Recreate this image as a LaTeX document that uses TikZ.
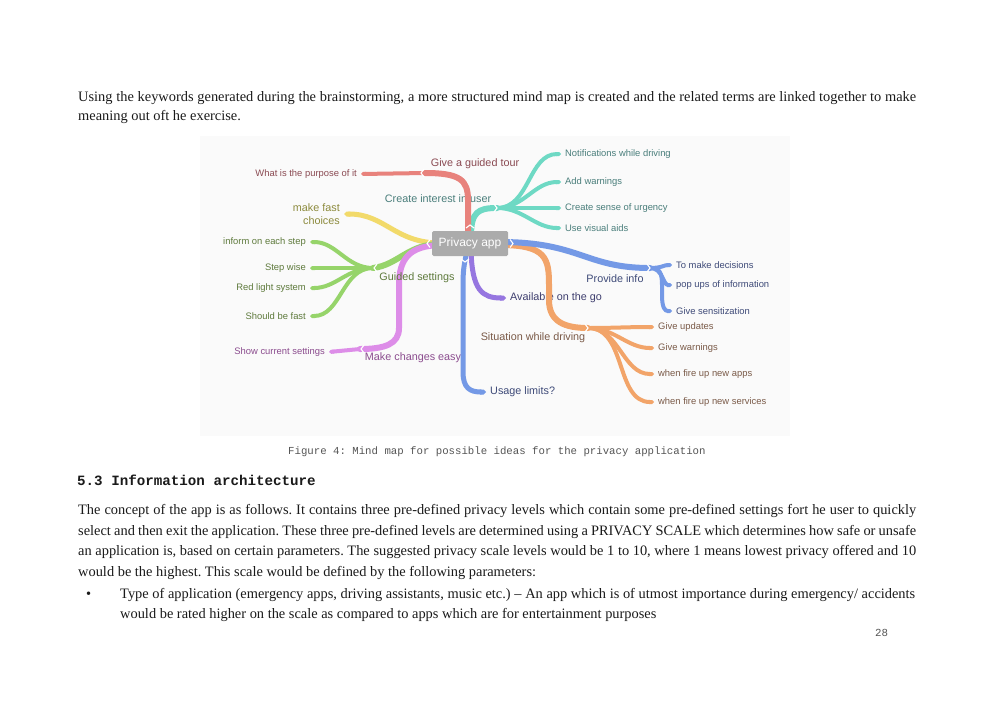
\documentclass[tikz,border=0pt]{standalone}
\usepackage{fontspec}
\setmainfont{Liberation Serif}
\newfontfamily\mapsans{Liberation Sans}
\newfontfamily\mymono{Liberation Mono}
\usetikzlibrary{arrows.meta}
\definecolor{redb}{HTML}{E8827C}
\definecolor{tealb}{HTML}{6ED9C4}
\definecolor{yellowb}{HTML}{F2DA6A}
\definecolor{greenb}{HTML}{96D46A}
\definecolor{pinkb}{HTML}{DD8DE8}
\definecolor{blueb}{HTML}{7499E6}
\definecolor{violetb}{HTML}{9676E0}
\definecolor{orangeb}{HTML}{F2A469}
\definecolor{redt}{HTML}{8A4A52}
\definecolor{tealt}{HTML}{4A7E7B}
\definecolor{yellowt}{HTML}{8C8A3C}
\definecolor{greent}{HTML}{5E7A3C}
\definecolor{pinkt}{HTML}{8B4C8E}
\definecolor{bluet}{HTML}{3E4A78}
\definecolor{violett}{HTML}{3E3E6E}
\definecolor{oranget}{HTML}{7A5A48}
\definecolor{boxgray}{HTML}{ABABAB}
\definecolor{bodyt}{HTML}{1A1A1A}
\definecolor{capt}{HTML}{555555}
\newcommand\jl[1]{\hbox to 838pt{#1}}
\newcommand\jlb[1]{\hbox to 795pt{#1}}
\frenchspacing
\begin{document}
\begin{tikzpicture}[x=1pt,y=-1pt,
  body/.style={anchor=base west, inner sep=0pt, text=bodyt, font=\fontsize{14.4}{16}\selectfont\frenchspacing},
  br/.style={line width=6pt, line cap=round},
  brend/.style={line width=5pt, line cap=round, -{Triangle Cap[]}},
  sub/.style={line width=4pt, line cap=round, -{Triangle Cap[]}},
  lbl/.style={inner sep=0pt, font=\mapsans\fontsize{10.8}{12.5}\selectfont},
  sml/.style={inner sep=0pt, font=\mapsans\fontsize{9.4}{10.8}\selectfont},
  notch/.style={white, line width=1.1pt}]
\useasboundingbox (0,0) rectangle (1000,707);
\fill[white] (0,0) rectangle (1000,707);
\fill[black!1.8] (200,136) rectangle (790,436);

% ---------- body text ----------
\node[body] (p1a) at (78,101) {\jl{Using the keywords generated during the brainstorming, a more structured mind map is created and the related terms are linked together to make}};
\node[body] (p1b) at (78,120) {meaning out oft he exercise.};
\node[body] (cap) at (288,454) {\mymono\fontsize{10.7}{12}\selectfont\color{capt}Figure 4: Mind map for possible ideas for the privacy application};
\node[body] (head) at (77,485) {\mymono\bfseries\fontsize{14.2}{16}\selectfont 5.3 Information architecture};
\node[body] (p2a) at (78,514) {\jl{The concept of the app is as follows. It contains three pre-defined privacy levels which contain some pre-defined settings fort he user to quickly}};
\node[body] (p2b) at (78,535) {\jl{select and then exit the application. These three pre-defined levels are determined using a PRIVACY SCALE which determines how safe or unsafe}};
\node[body] (p2c) at (78,555) {\jl{an application is, based on certain parameters. The suggested privacy scale levels would be 1 to 10, where 1 means lowest privacy offered and 10}};
\node[body] (p2d) at (78,576) {would be the highest. This scale would be defined by the following parameters:};
\node[body] (bul) at (86,598) {\textbullet};
\node[body] (p3a) at (120,598) {\jlb{Type of application (emergency apps, driving assistants, music etc.) -- An app which is of utmost importance during emergency/ accidents}};
\node[body] (p3b) at (120,618) {would be rated higher on the scale as compared to apps which are for entertainment purposes};
\node[body] (pg) at (875,636) {\mymono\fontsize{10.8}{12}\selectfont\color{capt}28};

% ---------- mind map text nodes ----------
\node[sml, text=redt, anchor=east] (tPurpose) at (357,174) {What is the purpose of it};
\node[lbl, text=redt] (lTour) at (475,164) {Give a guided tour};
\node[lbl, text=tealt] (lInterest) at (438,199) {Create interest in user};
\node[sml, text=tealt, anchor=west] (tNotif) at (565,154) {Notifications while driving};
\node[sml, text=tealt, anchor=west] (tWarn) at (565,182) {Add warnings};
\node[sml, text=tealt, anchor=west] (tUrg) at (565,208) {Create sense of urgency};
\node[sml, text=tealt, anchor=west] (tVis) at (565,228) {Use visual aids};
\node[lbl, text=yellowt, anchor=east, align=right] (tFast) at (340,214) {make fast\\choices};
\node[sml, text=greent, anchor=east] (tInform) at (306,242) {inform on each step};
\node[sml, text=greent, anchor=east] (tStep) at (306,268) {Step wise};
\node[sml, text=greent, anchor=east] (tRed) at (306,288) {Red light system};
\node[sml, text=greent, anchor=east] (tFastS) at (306,316) {Should be fast};
\node[lbl, text=pinkt] (lChanges) at (413,358) {Make changes easy};
\node[sml, text=pinkt, anchor=east] (tShow) at (325,352) {Show current settings};
\node[lbl, text=bluet] (lInfo) at (615,279) {Provide info};
\node[sml, text=bluet, anchor=west] (tDec) at (676,265) {To make decisions};
\node[sml, text=bluet, anchor=west] (tPop) at (676,285) {pop ups of information};
\node[sml, text=bluet, anchor=west] (tSens) at (676,311) {Give sensitization};
\node[lbl, text=violett, anchor=west] (tAvail) at (510,298) {Available on the go};
\node[lbl, text=oranget] (lSit) at (533,338) {Situation while driving};
\node[sml, text=oranget, anchor=west] (tUpd) at (658,327) {Give updates};
\node[sml, text=oranget, anchor=west] (tGW) at (658,348) {Give warnings};
\node[sml, text=oranget, anchor=west] (tApps) at (658,374) {when fire up new apps};
\node[sml, text=oranget, anchor=west] (tServ) at (658,402) {when fire up new services};
\node[lbl, text=bluet, anchor=west] (tUsage) at (490,392) {Usage limits?};

% ---------- junctions ----------
\coordinate (C0) at (470,243.5);
\coordinate (rJ) at (425,173);
\coordinate (tJ) at (497,208);
\coordinate (gJ) at (373,268);
\coordinate (pJ) at (360,349);
\coordinate (bJ) at (650,268);
\coordinate (oJ) at (588,328);

% ---------- branches ----------
% teal
\draw[br, tealb] (471,236) .. controls (471,212) and (478,208) .. (tJ);
\foreach \t in {tNotif,tWarn,tUrg,tVis}
  \draw[sub, tealb] (tJ) to[out=0,in=180] ([xshift=-4pt]\t.west);
% red
\draw[br, redb] (468,236) -- (468,200) .. controls (468,180) and (460,173) .. (rJ);
\draw[sub, redb] (rJ) -- ([xshift=4pt]tPurpose.east);
% yellow
\draw[brend, yellowb] (440,243) .. controls (395,243) and (385,214) .. ([xshift=4pt]tFast.east);
% green
\draw[br, greenb] (440,244) .. controls (408,244) and (398,265) .. (gJ);
\foreach \t in {tInform,tStep,tRed,tFastS}
  \draw[sub, greenb] (gJ) to[out=180,in=0] ([xshift=4pt]\t.east);
% pink
\draw[br, pinkb] (440,245) .. controls (410,246) and (399,258) .. (399,285) -- (399,328) .. controls (399,344) and (385,349) .. (pJ);
\draw[sub, pinkb] (pJ) -- ([xshift=4pt]tShow.east);
\node[lbl, text=greent] (lGuided) at (417,278) {Guided settings};
% orange
\draw[br, orangeb] (500,245) .. controls (546,245) and (549,258) .. (549,285) -- (549,300) .. controls (549,322) and (565,328) .. (oJ);
\foreach \t in {tUpd,tGW,tApps,tServ}
  \draw[sub, orangeb] (oJ) to[out=0,in=180] ([xshift=-4pt]\t.west);
% blue provide info
\draw[br, blueb] (500,242) .. controls (580,242) and (585,268) .. (bJ);
\draw[sub, blueb] (bJ) .. controls (662,268) and (664,265) .. ([xshift=-4pt]tDec.west);
\draw[sub, blueb] (bJ) .. controls (663,268) and (663,285) .. ([xshift=-4pt]tPop.west);
\draw[sub, blueb] (bJ) .. controls (663,268) and (662,276) .. (662,295) .. controls (662,308) and (665,311) .. ([xshift=-4pt]tSens.west);
% blue usage limits
\draw[brend, blueb] (467,250) .. controls (465,262) and (463,266) .. (463,285) -- (463,372) .. controls (463,388) and (470,392) .. ([xshift=-4pt]tUsage.west);
% violet
\draw[brend, violetb] (471,250) .. controls (472,290) and (482,298) .. ([xshift=-4pt]tAvail.west);

% ---------- central node ----------
\node[fill=boxgray, rounded corners=1.5pt, minimum width=76pt, minimum height=25pt, inner sep=0pt,
      text=white, font=\mapsans\fontsize{12}{14}\selectfont] (C) at (C0) {Privacy app};

% ---------- notches ----------
\draw[notch] (510,239.5) -- (513,243.5) -- (510,247.5);
\draw[notch] (430,239.5) -- (427,243.5) -- (430,247.5);
\draw[notch] (466,228) -- (470,225) -- (474,228);
\draw[notch] (461,259) -- (465,262) -- (469,259);
\draw[notch] (424,169) -- (421,173) -- (424,177);
\draw[notch] (494,204) -- (497,208) -- (494,212);
\draw[notch] (377,264) -- (374,268) -- (377,272);
\draw[notch] (364,345) -- (361,349) -- (364,353);
\draw[notch] (647,264) -- (650,268) -- (647,272);
\draw[notch] (585,324) -- (588,328) -- (585,332);
\end{tikzpicture}
\end{document}
